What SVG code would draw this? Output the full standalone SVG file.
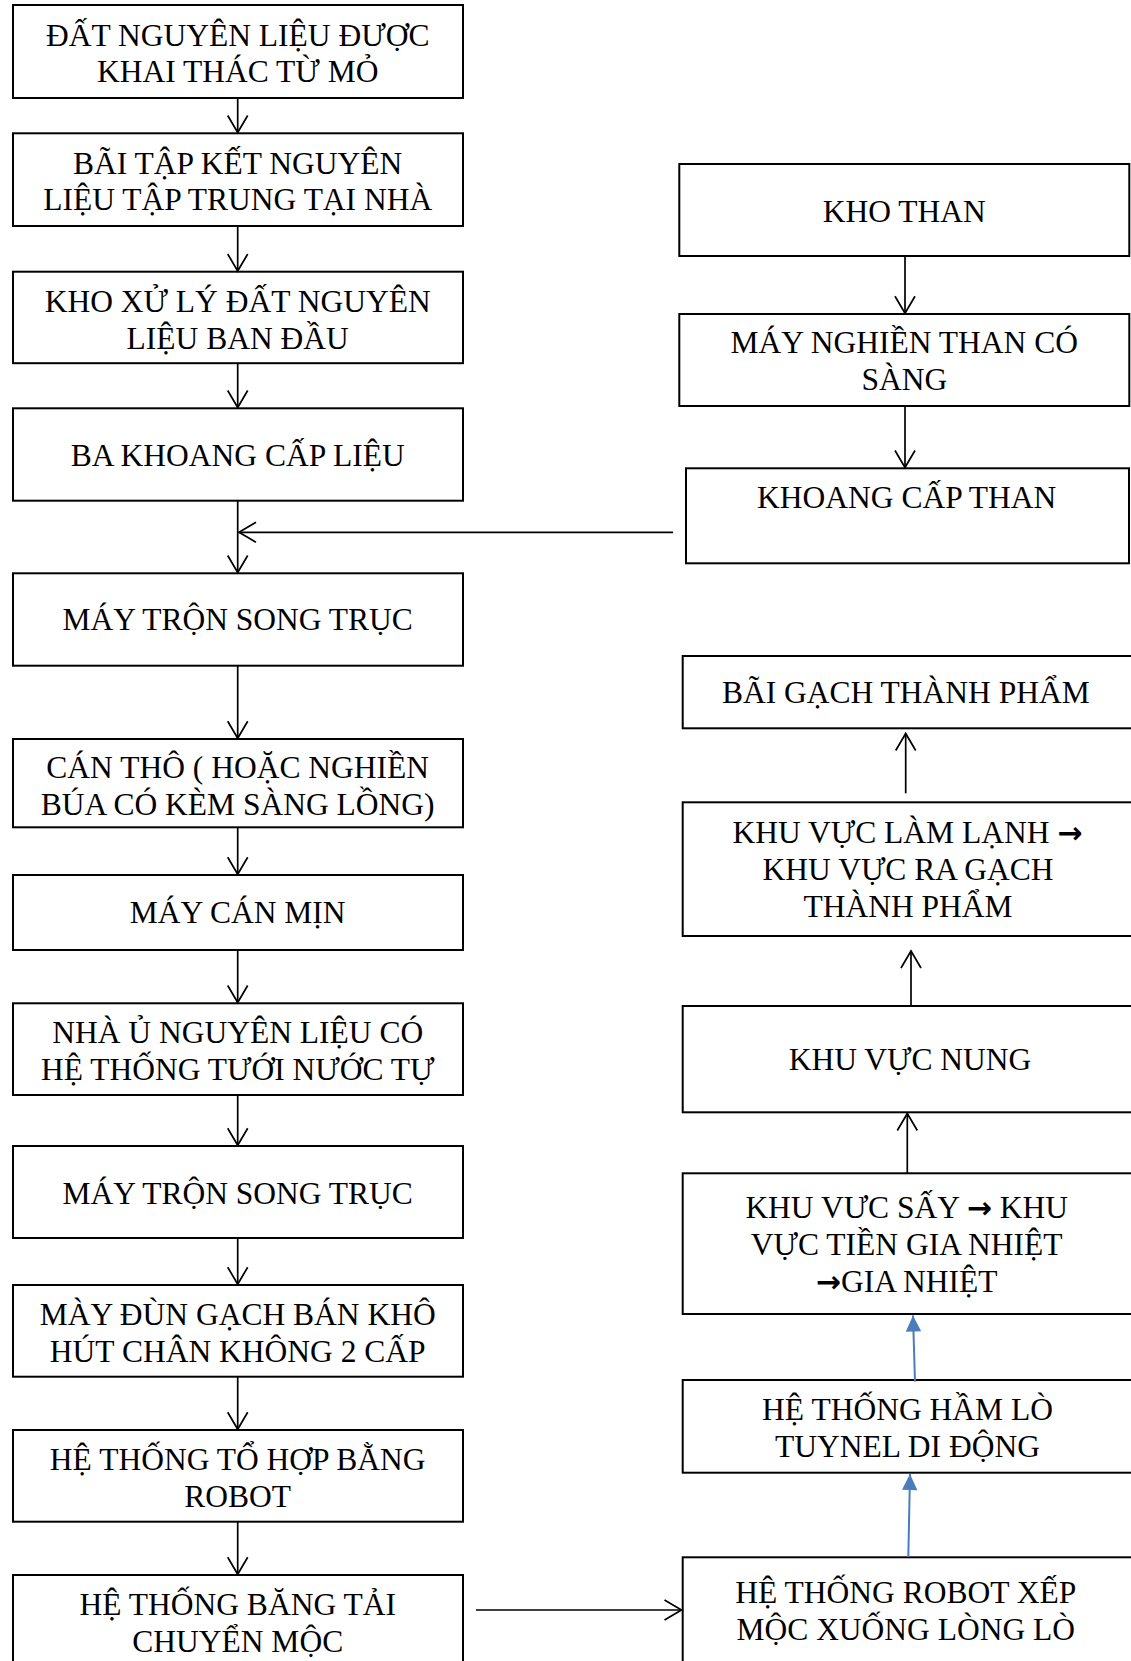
<svg xmlns="http://www.w3.org/2000/svg" width="1131" height="1661" viewBox="0 0 1131 1661">
<defs>
<style>
.box{fill:#fff;stroke:#000;stroke-width:2}
.t{font-family:"Liberation Serif","Times New Roman",serif;font-size:31.5px;fill:#000;text-anchor:middle}
.ar{font-family:"DejaVu Sans",sans-serif;font-weight:bold;font-size:30px}
.c{fill:none;stroke:#000;stroke-width:1.7}
.b{fill:none;stroke:#4a7ebb;stroke-width:2}
</style>
<marker id="open" markerUnits="userSpaceOnUse" markerWidth="24" markerHeight="24" viewBox="-20 -12 24 24" refX="0" refY="0" orient="auto" overflow="visible">
<path d="M-17,-10 L0,0 L-17,10" fill="none" stroke="#000" stroke-width="1.7"/>
</marker>
<marker id="fill" markerUnits="userSpaceOnUse" markerWidth="20" markerHeight="20" viewBox="-18 -10 20 20" refX="0" refY="0" orient="auto" overflow="visible">
<path d="M-16,-7.7 L0,0 L-16,7.7 Z" fill="#4a7ebb" stroke="none"/>
</marker>
</defs>
<rect width="1131" height="1661" fill="#fff"/>

<g id="n1"><rect class="box" x="13" y="5" width="450" height="93"/><text class="t" x="237.7" y="45.7">ĐẤT NGUYÊN LIỆU ĐƯỢC</text><text class="t" x="237.7" y="82.3">KHAI THÁC TỪ MỎ</text></g>
<g id="n2"><rect class="box" x="13" y="133.3" width="450" height="92.7"/><text class="t" x="237.7" y="173.7">BÃI TẬP KẾT NGUYÊN</text><text class="t" x="237.7" y="210">LIỆU TẬP TRUNG TẠI NHÀ</text></g>
<g id="n3"><rect class="box" x="13" y="271.7" width="450" height="91.5"/><text class="t" x="237.7" y="312">KHO XỬ LÝ ĐẤT NGUYÊN</text><text class="t" x="237.7" y="348.5">LIỆU BAN ĐẦU</text></g>
<g id="n4"><rect class="box" x="13" y="408.3" width="450" height="92.4"/><text class="t" x="237.7" y="465.7">BA KHOANG CẤP LIỆU</text></g>
<g id="n5"><rect class="box" x="13" y="573.3" width="450" height="92.4"/><text class="t" x="237.7" y="630">MÁY TRỘN SONG TRỤC</text></g>
<g id="n6"><rect class="box" x="13" y="739" width="450" height="88.3"/><text class="t" x="237.7" y="778.3">CÁN THÔ ( HOẶC NGHIỀN</text><text class="t" x="237.7" y="815">BÚA CÓ KÈM SÀNG LỒNG)</text></g>
<g id="n7"><rect class="box" x="13" y="875" width="450" height="75"/><text class="t" x="237.7" y="922.7">MÁY CÁN MỊN</text></g>
<g id="n8"><rect class="box" x="13" y="1003.3" width="450" height="91.7"/><text class="t" x="237.7" y="1043.3">NHÀ Ủ NGUYÊN LIỆU CÓ</text><text class="t" x="237.7" y="1080">HỆ THỐNG TƯỚI NƯỚC TỰ</text></g>
<g id="n9"><rect class="box" x="13" y="1146" width="450" height="92"/><text class="t" x="237.7" y="1204">MÁY TRỘN SONG TRỤC</text></g>
<g id="n10"><rect class="box" x="13" y="1285" width="450" height="91.7"/><text class="t" x="237.7" y="1325">MÀY ĐÙN GẠCH BÁN KHÔ</text><text class="t" x="237.7" y="1361.7">HÚT CHÂN KHÔNG 2 CẤP</text></g>
<g id="n11"><rect class="box" x="13" y="1430" width="450" height="91.7"/><text class="t" x="237.7" y="1470">HỆ THỐNG TỔ HỢP BẰNG</text><text class="t" x="237.7" y="1506.7">ROBOT</text></g>
<g id="n12"><rect class="box" x="13" y="1575" width="450" height="100"/><text class="t" x="237.7" y="1615">HỆ THỐNG BĂNG TẢI</text><text class="t" x="237.7" y="1651.7">CHUYỂN MỘC</text></g>

<g id="r1"><rect class="box" x="679.3" y="164" width="450" height="92"/><text class="t" x="904.3" y="221.7">KHO THAN</text></g>
<g id="r2"><rect class="box" x="679.3" y="314" width="450" height="92"/><text class="t" x="904.3" y="353.3">MÁY NGHIỀN THAN CÓ</text><text class="t" x="904.3" y="390">SÀNG</text></g>
<g id="r3"><rect class="box" x="686" y="468.3" width="443" height="95"/><text class="t" x="906.7" y="508.3">KHOANG CẤP THAN</text></g>
<g id="r4"><rect class="box" x="682.7" y="656" width="452" height="72.3"/><text class="t" x="905.8" y="703.3">BÃI GẠCH THÀNH PHẨM</text></g>
<g id="r5"><rect class="box" x="682.7" y="802.3" width="452" height="133.7"/><text class="t" x="907.5" y="843.3">KHU VỰC LÀM LẠNH <tspan class="ar">→</tspan></text><text class="t" x="908" y="880">KHU VỰC RA GẠCH</text><text class="t" x="908" y="916.7">THÀNH PHẨM</text></g>
<g id="r6"><rect class="box" x="682.7" y="1006" width="452" height="106.3"/><text class="t" x="910" y="1070">KHU VỰC NUNG</text></g>
<g id="r7"><rect class="box" x="682.7" y="1173.3" width="452" height="140.7"/><text class="t" x="906.7" y="1218.3">KHU VƯC SẤY <tspan class="ar">→</tspan> KHU</text><text class="t" x="906.7" y="1255">VỰC TIỀN GIA NHIỆT</text><text class="t" x="906.7" y="1291.7"><tspan class="ar">→</tspan>GIA NHIỆT</text></g>
<g id="r8"><rect class="box" x="682.7" y="1380" width="452" height="92.7"/><text class="t" x="907.5" y="1420">HỆ THỐNG HẦM LÒ</text><text class="t" x="907.5" y="1456.7">TUYNEL DI ĐỘNG</text></g>
<g id="r9"><rect class="box" x="682.7" y="1557.3" width="452" height="120"/><text class="t" x="905.8" y="1603.3">HỆ THỐNG ROBOT XẾP</text><text class="t" x="905.8" y="1640">MỘC XUỐNG LÒNG LÒ</text></g>

<g id="connectors">
<line class="c" x1="237.7" y1="98" x2="237.7" y2="132.5" marker-end="url(#open)"/>
<line class="c" x1="237.7" y1="226" x2="237.7" y2="271" marker-end="url(#open)"/>
<line class="c" x1="237.7" y1="363.2" x2="237.7" y2="407.5" marker-end="url(#open)"/>
<line class="c" x1="237.7" y1="500.7" x2="237.7" y2="572.5" marker-end="url(#open)"/>
<line class="c" x1="673" y1="532.3" x2="239" y2="532.3" marker-end="url(#open)"/>
<line class="c" x1="237.7" y1="665.7" x2="237.7" y2="738.2" marker-end="url(#open)"/>
<line class="c" x1="237.7" y1="827.3" x2="237.7" y2="874.2" marker-end="url(#open)"/>
<line class="c" x1="237.7" y1="950" x2="237.7" y2="1002.5" marker-end="url(#open)"/>
<line class="c" x1="237.7" y1="1095" x2="237.7" y2="1145.2" marker-end="url(#open)"/>
<line class="c" x1="237.7" y1="1238" x2="237.7" y2="1284.2" marker-end="url(#open)"/>
<line class="c" x1="237.7" y1="1376.7" x2="237.7" y2="1429.2" marker-end="url(#open)"/>
<line class="c" x1="237.7" y1="1521.7" x2="237.7" y2="1574.2" marker-end="url(#open)"/>
<line class="c" x1="476" y1="1610" x2="681.5" y2="1610" marker-end="url(#open)"/>
<line class="c" x1="905" y1="256" x2="905" y2="313.2" marker-end="url(#open)"/>
<line class="c" x1="905" y1="406" x2="905" y2="467.5" marker-end="url(#open)"/>
<line class="c" x1="905.7" y1="793.3" x2="905.7" y2="733.5" marker-end="url(#open)"/>
<line class="c" x1="911" y1="1006" x2="911" y2="951" marker-end="url(#open)"/>
<line class="c" x1="907.3" y1="1173.3" x2="907.3" y2="1113.5" marker-end="url(#open)"/>
<line class="b" x1="915" y1="1381.7" x2="913" y2="1315.5" marker-end="url(#fill)"/>
<line class="b" x1="908.3" y1="1557" x2="910" y2="1474" marker-end="url(#fill)"/>
</g>
</svg>
